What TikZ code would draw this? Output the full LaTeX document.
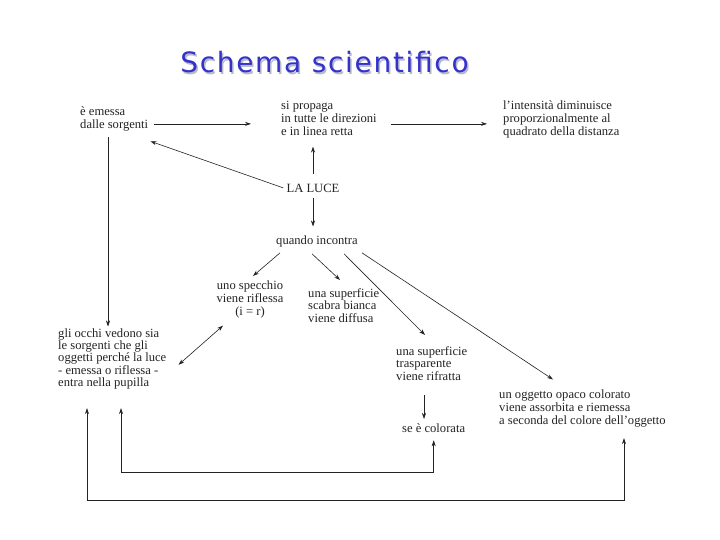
\documentclass[tikz,border=0pt]{standalone}
\usepackage{fontspec}
\setmainfont{Liberation Serif}
\newfontfamily\titlefont[LetterSpace=6]{DejaVu Sans}
\usetikzlibrary{arrows.meta, calc}
\definecolor{cTitle}{RGB}{51, 51, 204}
\definecolor{cShadow}{RGB}{185, 185, 200}
\definecolor{tInk}{RGB}{35, 35, 35}

\begin{document}
\begin{tikzpicture}[
    x=1pt, y=-1pt,
    >={Stealth[length=6pt, width=4pt]},
    note/.style={
        font=\fontsize{12.6}{12.9}\selectfont,
        text=tInk,
        align=left,
        inner sep=0pt,
        anchor=north west
    },
    arrow/.style={->, line width=0.6pt, color=tInk},
    both/.style={<->, line width=0.6pt, color=tInk}
]
\useasboundingbox[fill=white] (0,0) rectangle (720,540);

% title with its shadow
\node[font=\titlefont\fontsize{28}{30}\selectfont, text=cShadow, anchor=base] (shadow) at (326,75) {Schema scientifico};
\node[font=\titlefont\fontsize{28}{30}\selectfont, text=cTitle, anchor=base] (title) at (324.5,73) {Schema scientifico};

\node[note] (emessa) at (80,106.5) {è emessa\\dalle sorgenti};
\node[note] (propaga) at (281,101) {si propaga\\in tutte le direzioni\\e in linea retta};
\node[note] (intens) at (503,100.5) {l'intensità diminuisce\\proporzionalmente al\\quadrato della distanza};

\node[note, anchor=north] (luce) at (313,183.5) {LA LUCE};
\node[note, anchor=north] (quando) at (317,236) {quando incontra};

\node[note, anchor=north, align=center] (specchio) at (250,281) {uno specchio\\viene riflessa\\(i = r)};
\node[note] (scabra) at (308,288) {una superficie\\scabra bianca\\viene diffusa};
\node[note] (trasp) at (396,346) {una superficie\\trasparente\\viene rifratta};
\node[note] (opaco) at (499,389.5) {un oggetto opaco colorato\\viene assorbita e riemessa\\a seconda del colore dell'oggetto};
\node[note] (colorata) at (402,424) {se è colorata};

\node[note, font=\fontsize{12.6}{12.2}\selectfont] (occhi) at (58,328.5) {gli occhi vedono sia\\le sorgenti che gli\\oggetti perché la luce\\- emessa o riflessa -\\entra nella pupilla};

% top row
\coordinate (rowA) at ($(emessa.east)+(6,5)$);
\draw[arrow] (rowA) -- ($(rowA -| propaga.west)+(-30,0)$);
\draw[arrow] ($(rowA -| propaga.east)+(14,0)$) -- ($(rowA -| intens.west)+(-16,0)$);

\draw[arrow] ($(luce.west)+(-3,0)$) -- ($(emessa.south east)+(2,10)$);
\draw[arrow, shorten >=11pt] ($(luce.north)+(0,-9)$) -- (luce.north |- propaga.south);
\draw[arrow, shorten >=9.5pt] ($(luce.south)+(0,6)$) -- (luce.south |- quando.north);

% quando incontra
\draw[arrow] ($(quando.south west)+(4,5)$) -- ($(specchio.north)+(3,-5)$);
\draw[arrow] ($(quando.south)+(-5,6)$) -- ($(scabra.north west)+(32,-8)$);
\draw[arrow] ($(quando.south)+(27,6)$) -- ($(trasp.north west)+(29,-11)$);
\draw[arrow] ($(quando.south east)+(4,5)$) -- ($(opaco.north west)+(54,-10)$);

% towards the eye
\coordinate (eyeIn) at ($(emessa.south west)+(28,6)$);
\draw[arrow, shorten >=2pt] (eyeIn) -- (eyeIn |- occhi.north);
\draw[both] ($(occhi.east)+(12,6)$) -- ($(specchio.south)+(-27,7)$);

\coordinate (refr) at ($(trasp.south west)+(28,14)$);
\draw[arrow, shorten >=5pt] (refr) -- (refr |- colorata.north);

\draw[both] ($(colorata.south)+(0,7)$) -- ++(0,32) -| ($(occhi.south west)+(63,19)$);
\draw[both] ($(opaco.south west)+(125,11)$) -- ++(0,62) -| ($(occhi.south west)+(29,19)$);

\end{tikzpicture}
\end{document}
